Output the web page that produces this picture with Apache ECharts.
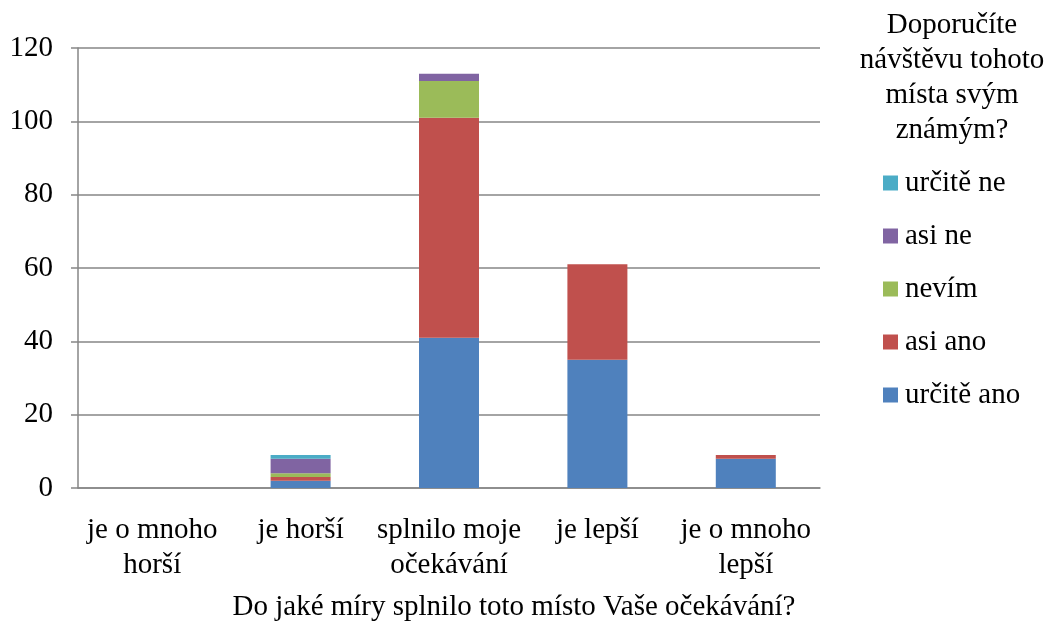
<!DOCTYPE html>
<html>
<head>
<meta charset="utf-8">
<script src="https://cdn.jsdelivr.net/npm/echarts@6/dist/echarts.min.js"></script>
<style>
  html, body { margin: 0; padding: 0; background: #fff; }
  #chart { width: 1048px; height: 638px; }
</style>
</head>
<body>
<div id="chart"></div>
<script>
// kategorie na ose x (splněná očekávání)
const categories = ['je o mnoho\nhorší', 'je horší', 'splnilo moje\nočekávání', 'je lepší', 'je o mnoho\nlepší']
const yTicks = { min: 0, max: 120, interval: 20 }

// hodnoty řad (doporučení)
const urciteAno = [0, 2, 41, 35, 8]
const asiAno = [0, 1, 60, 26, 1]
const nevim = [0, 1, 10, 0, 0]
const asiNe = [0, 4, 2, 0, 0]
const urciteNe = [0, 1, 0, 0, 0]

const seriesNames = ['určitě ano', 'asi ano', 'nevím', 'asi ne', 'určitě ne']
const seriesValues = [urciteAno, asiAno, nevim, asiNe, urciteNe]
const colors = ['#4F81BD', '#C0504D', '#9BBB59', '#8064A2', '#4BACC6']

const font = 'Liberation Serif'
const fs = 29
const chart = echarts.init(document.getElementById('chart'))

chart.setOption({
  animation: false,
  color: colors,
  textStyle: { fontFamily: font },
  grid: { left: 78, right: 228, top: 48, bottom: 150 },
  title: [
    {
      text: 'Doporučíte\nnávštěvu tohoto\nmísta svým\nznámým?',
      left: 947,
      top: 3,
      textAlign: 'center',
      textStyle: { fontFamily: font, fontSize: fs, fontWeight: 'normal', color: '#000', lineHeight: 35 }
    },
    {
      text: 'Do jaké míry splnilo toto místo Vaše očekávání?',
      left: 509,
      top: 588,
      textAlign: 'center',
      textStyle: { fontFamily: font, fontSize: fs, fontWeight: 'normal', color: '#000' }
    }
  ],
  legend: {
    orient: 'vertical',
    left: 883,
    top: 168,
    padding: 0,
    itemWidth: 15,
    itemHeight: 15,
    itemGap: 23,
    icon: 'rect',
    data: seriesNames.slice().reverse(),
    textStyle: { fontFamily: font, fontSize: fs, color: '#000', lineHeight: 30, padding: [0, 0, 0, 2] }
  },
  xAxis: {
    type: 'category',
    data: categories,
    axisLine: { lineStyle: { color: '#868686', width: 1.5 } },
    axisTick: { length: 7, lineStyle: { color: '#868686', width: 1.5 } },
    axisLabel: { color: '#000', fontSize: fs, fontFamily: font, lineHeight: 35, margin: 25, interval: 0 }
  },
  yAxis: {
    type: 'value',
    min: yTicks.min,
    max: yTicks.max,
    interval: yTicks.interval,
    axisLine: { show: true, lineStyle: { color: '#868686', width: 1.5 } },
    axisTick: { show: true, length: 7, lineStyle: { color: '#868686', width: 1.5 } },
    axisLabel: { color: '#000', fontSize: fs, fontFamily: font, margin: 25 },
    splitLine: { lineStyle: { color: '#868686', width: 1.5 } }
  },
  series: seriesNames.map((name, i) => ({
    name: name,
    type: 'bar',
    stack: 'total',
    barWidth: 60,
    data: seriesValues[i]
  }))
})
</script>
</body>
</html>
